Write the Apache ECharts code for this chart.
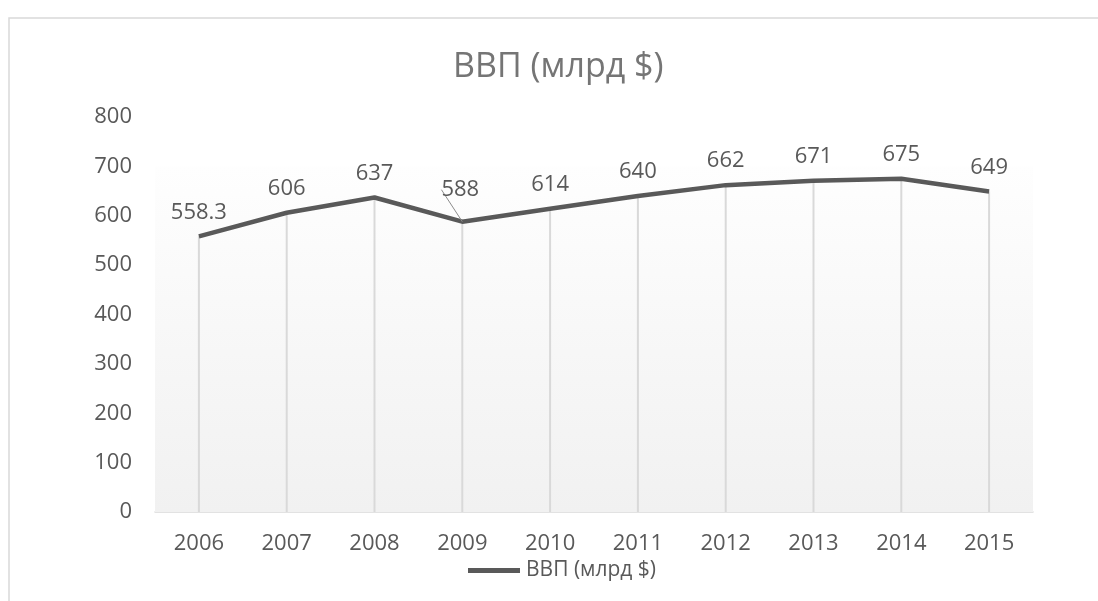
<!DOCTYPE html>
<html>
<head>
<meta charset="utf-8">
<script src="https://cdn.jsdelivr.net/npm/echarts@6/dist/echarts.min.js"></script>
<style>html,body{margin:0;padding:0;background:#fff}#c{width:1098px;height:601px}</style>
</head>
<body>
<div id="c"></div>
<script>
const title = 'ВВП (млрд $)';
const seriesName = 'ВВП (млрд $)';
const years = ['2006','2007','2008','2009','2010','2011','2012','2013','2014','2015'];
const gdp = [558.3, 606, 637, 588, 614, 640, 662, 671, 675, 649];
const yTicks = { min: 0, max: 800, interval: 100 };
const shadedRange = [0, 700];
const leaderIndex = 3;

const chart = echarts.init(document.getElementById('c'), null, { renderer: 'canvas' });
const font = '"Open Sans", "Noto Sans", sans-serif';
chart.setOption({
  animation: false,
  textStyle: { fontFamily: font },
  graphic: [{
    type: 'rect', silent: true, z: -10,
    shape: { x: 9, y: 18, width: 1200, height: 700 },
    style: { fill: 'transparent', stroke: '#d9d9d9', lineWidth: 1.5 }
  }],
  title: {
    text: title, left: 448, top: 45,
    textStyle: { fontFamily: font, fontSize: 34, fontWeight: 'normal', color: '#757575' }
  },
  legend: {
    data: [seriesName], left: 463, top: 555,
    icon: 'path://M0,0 L52,0 L52,5 L0,5 Z', itemWidth: 52, itemHeight: 5, itemGap: 4,
    textStyle: { fontFamily: font, fontSize: 21, color: '#595959', padding: [0, 0, 0, 1] }
  },
  grid: { left: 155, right: 65, top: 117, bottom: 89 },
  xAxis: {
    type: 'category', data: years, boundaryGap: true,
    axisLine: { lineStyle: { color: '#d9d9d9', width: 1.5 } },
    axisTick: { show: false },
    axisLabel: { fontFamily: font, fontSize: 22, color: '#595959', margin: 21 }
  },
  yAxis: {
    type: 'value', min: yTicks.min, max: yTicks.max, interval: yTicks.interval,
    axisLine: { show: false }, axisTick: { show: false },
    splitLine: { show: false },
    axisLabel: { fontFamily: font, fontSize: 22, color: '#595959', margin: 23 }
  },
  series: [
    {
      name: 'drop', type: 'bar', data: gdp, barWidth: 2, barGap: '-100%',
      itemStyle: { color: '#d9d9d9' }, silent: true, z: 1,
      markArea: {
        silent: true,
        itemStyle: {
          color: { type: 'linear', x: 0, y: 0, x2: 0, y2: 1,
            colorStops: [{ offset: 0, color: '#fefefe' }, { offset: 1, color: '#f1f1f1' }] }
        },
        data: [[{ yAxis: shadedRange[0] }, { yAxis: shadedRange[1] }]]
      }
    },
    {
      name: seriesName, type: 'line', z: 3,
      data: gdp.map((v, i) => i === leaderIndex
        ? { value: v, labelLine: { show: true, lineStyle: { color: '#8c8c8c', width: 1 } } }
        : v),
      symbol: 'circle', symbolSize: 0, showSymbol: true,
      lineStyle: { color: '#595959', width: 4.5 },
      itemStyle: { color: '#595959' },
      label: { show: true, position: 'top', distance: 13, fontFamily: font, fontSize: 22, color: '#595959' },
      labelLine: { show: false },
      labelLayout: function (p) {
        return p.dataIndex === leaderIndex ? { dx: -2, dy: -8 } : {};
      }
    }
  ]
});
</script>
</body>
</html>
